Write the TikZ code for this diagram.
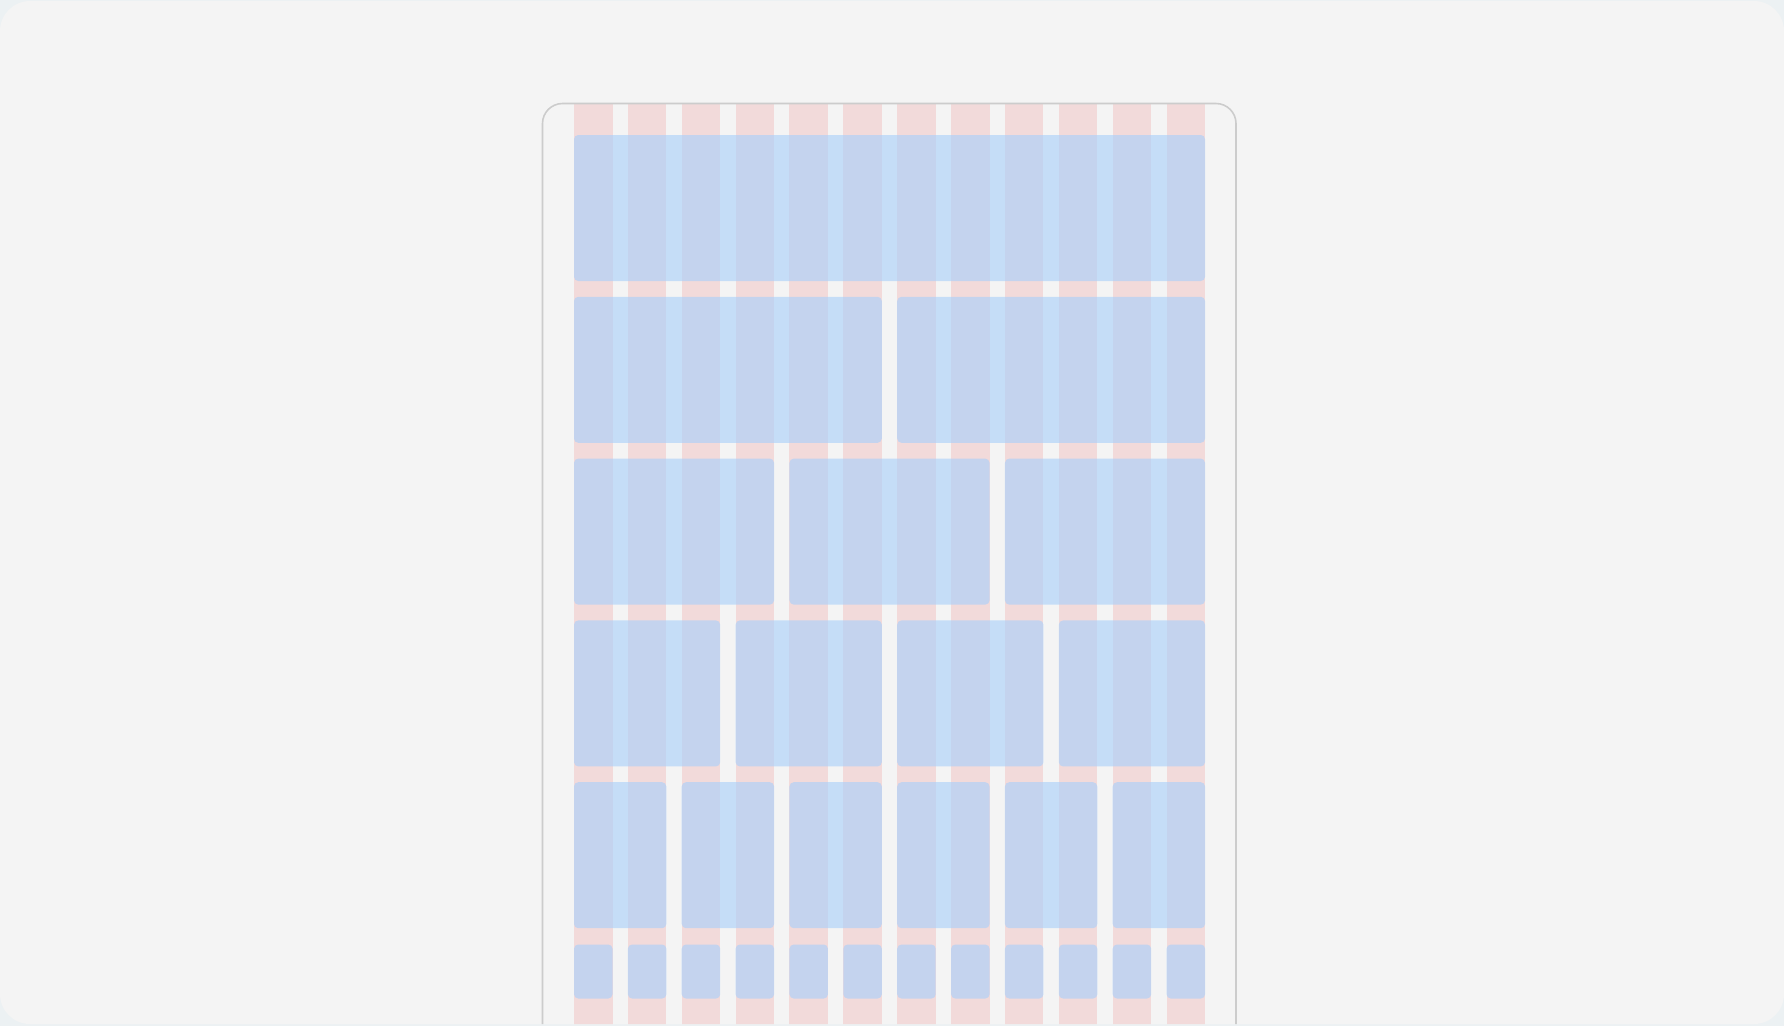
\documentclass[tikz,border=0pt]{standalone}
\usepackage{tikz}
\definecolor{pagebg}{RGB}{244,244,244}
\definecolor{outerbg}{RGB}{236,241,243}
\definecolor{framegray}{RGB}{204,204,204}
\definecolor{colpink}{RGB}{242,218,218}
\definecolor{blockblue}{RGB}{170,208,250}
\tikzset{
  colstrip/.style={fill=colpink, draw=none},
  gridblock/.style={fill=blockblue, fill opacity=0.63, draw=none, rounded corners=1.2pt},
}

\begin{document}
\begin{tikzpicture}[x=0.01cm, y=-0.01cm]
\fill[outerbg] (0,0) rectangle (1784,1026);
\path[use as bounding box] (0,0) rectangle (1784,1026);
\begin{scope}
\clip[rounded corners=0.3cm] (0,1) rectangle (1784,1024);
\fill[pagebg] (0,0) rectangle (1784,1026);
% twelve column strips
\foreach \i in {0,...,11} {\pgfmathsetmacro{\cx}{574+\i*53.87}\fill[colstrip] (\cx,104) rectangle ++(38.5,930);}
% rows of blocks: columns spanned / row index
\foreach \w/\r in {12/0,6/1,4/2,3/3,2/4} {
  \pgfmathtruncatemacro{\nb}{12/\w-1}
  \pgfmathsetmacro{\ry}{135+\r*161.8}
  \foreach \k in {0,...,\nb} {\pgfmathsetmacro{\bx}{574+\k*\w*53.87}\pgfmathsetmacro{\bw}{\w*53.87-15.4}
    \fill[gridblock] (\bx,\ry) rectangle ++(\bw,146);}
}
\foreach \k in {0,...,11} {\pgfmathsetmacro{\bx}{574+\k*53.87}\fill[gridblock] (\bx,944.5) rectangle ++(38.5,54);}
% device frame
\draw[framegray, line width=0.45pt, rounded corners=0.2cm] (542.5,1040) -- (542.5,103.5) -- (1236,103.5) -- (1236,1040);
\end{scope}
\end{tikzpicture}
\end{document}
